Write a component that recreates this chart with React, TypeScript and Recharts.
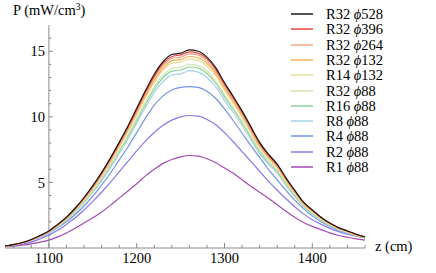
import React from "react";
import { LineChart, Line, XAxis, YAxis, ReferenceLine } from "recharts";

const FONT = '"Liberation Serif", "DejaVu Serif", serif';

const zValues = [
  1050, 1060, 1070, 1080, 1090, 1100, 1110, 1120, 1130, 1140, 1150, 1160, 1170, 1180,
  1190, 1200, 1210, 1220, 1230, 1240, 1250, 1260, 1270, 1280, 1290, 1300, 1310, 1320,
  1330, 1340, 1350, 1360, 1370, 1380, 1390, 1400, 1410, 1420, 1430, 1440, 1450, 1460,
];

const r32p528 = [0.15, 0.27, 0.42, 0.65, 0.95, 1.3, 1.8, 2.35, 3.05, 3.85, 4.75, 5.75, 6.85, 8.05, 9.3, 10.65, 12.0, 13.25, 14.2, 14.75, 14.85, 15.1, 15.0, 14.55, 13.75, 12.6, 11.55, 10.45, 9.25, 8.05, 7.15, 6.4, 5.35, 4.4, 3.5, 2.9, 2.35, 1.9, 1.55, 1.3, 1.05, 0.85];
const r32p396 = [0.15, 0.26, 0.41, 0.64, 0.94, 1.28, 1.78, 2.32, 3.0, 3.8, 4.7, 5.68, 6.78, 7.96, 9.2, 10.53, 11.87, 13.1, 14.05, 14.6, 14.72, 14.95, 14.85, 14.42, 13.62, 12.48, 11.44, 10.35, 9.16, 7.97, 7.08, 6.33, 5.3, 4.36, 3.47, 2.87, 2.33, 1.88, 1.53, 1.29, 1.04, 0.84];
const r32p264 = [0.15, 0.26, 0.41, 0.64, 0.93, 1.27, 1.76, 2.3, 2.98, 3.77, 4.65, 5.63, 6.71, 7.88, 9.1, 10.43, 11.75, 12.97, 13.9, 14.45, 14.55, 14.8, 14.7, 14.25, 13.47, 12.34, 11.31, 10.24, 9.06, 7.88, 7.0, 6.27, 5.24, 4.31, 3.43, 2.84, 2.3, 1.86, 1.52, 1.27, 1.03, 0.83];
const r32p132 = [0.14, 0.26, 0.4, 0.63, 0.92, 1.26, 1.74, 2.27, 2.95, 3.72, 4.59, 5.56, 6.62, 7.78, 8.99, 10.29, 11.6, 12.8, 13.72, 14.26, 14.36, 14.6, 14.5, 14.07, 13.3, 12.18, 11.17, 10.1, 8.94, 7.78, 6.91, 6.19, 5.17, 4.25, 3.38, 2.8, 2.27, 1.84, 1.5, 1.26, 1.02, 0.82];
const r14p132 = [0.14, 0.25, 0.4, 0.62, 0.91, 1.24, 1.72, 2.24, 2.91, 3.67, 4.53, 5.49, 6.53, 7.68, 8.87, 10.16, 11.45, 12.64, 13.55, 14.07, 14.17, 14.4, 14.3, 13.88, 13.12, 12.02, 11.02, 9.97, 8.82, 7.68, 6.82, 6.1, 5.1, 4.2, 3.34, 2.77, 2.24, 1.81, 1.48, 1.24, 1.0, 0.81];
const r32p88 = [0.14, 0.25, 0.39, 0.6, 0.88, 1.21, 1.67, 2.18, 2.83, 3.57, 4.4, 5.33, 6.35, 7.46, 8.62, 9.87, 11.12, 12.28, 13.16, 13.67, 13.77, 14.0, 13.9, 13.49, 12.75, 11.68, 10.71, 9.69, 8.57, 7.46, 6.63, 5.93, 4.96, 4.08, 3.24, 2.69, 2.18, 1.76, 1.44, 1.21, 0.97, 0.79];
const r16p88 = [0.14, 0.25, 0.38, 0.59, 0.87, 1.19, 1.65, 2.15, 2.79, 3.52, 4.34, 5.26, 6.26, 7.36, 8.5, 9.73, 10.97, 12.11, 12.98, 13.48, 13.57, 13.8, 13.71, 13.3, 12.57, 11.52, 10.56, 9.55, 8.45, 7.36, 6.53, 5.85, 4.89, 4.02, 3.2, 2.65, 2.15, 1.74, 1.42, 1.19, 0.96, 0.78];
const r8p88 = [0.13, 0.24, 0.38, 0.58, 0.85, 1.16, 1.61, 2.1, 2.73, 3.44, 4.25, 5.14, 6.12, 7.2, 8.31, 9.52, 10.73, 11.85, 12.69, 13.19, 13.28, 13.5, 13.41, 13.0, 12.29, 11.26, 10.33, 9.34, 8.27, 7.2, 6.39, 5.72, 4.78, 3.93, 3.13, 2.59, 2.1, 1.7, 1.39, 1.16, 0.94, 0.76];
const r4p88 = [0.13, 0.22, 0.35, 0.6, 0.85, 1.15, 1.55, 2.0, 2.55, 3.2, 3.95, 4.8, 5.7, 6.7, 7.7, 8.8, 9.9, 10.9, 11.6, 12.05, 12.25, 12.3, 12.25, 11.95, 11.4, 10.6, 9.7, 8.75, 7.8, 6.9, 6.0, 5.2, 4.4, 3.65, 3.0, 2.45, 2.0, 1.65, 1.35, 1.15, 0.97, 0.82];
const r2p88 = [0.12, 0.2, 0.3, 0.45, 0.7, 1.0, 1.35, 1.8, 2.3, 2.9, 3.55, 4.25, 5.0, 5.8, 6.6, 7.4, 8.15, 8.8, 9.35, 9.75, 10.0, 10.1, 10.05, 9.8, 9.4, 8.8, 8.1, 7.35, 6.6, 5.85, 5.1, 4.4, 3.75, 3.15, 2.6, 2.15, 1.8, 1.5, 1.25, 1.05, 0.9, 0.78];
const r1p88 = [0.1, 0.15, 0.22, 0.32, 0.45, 0.6, 0.85, 1.15, 1.5, 1.9, 2.3, 2.75, 3.25, 3.8, 4.35, 4.9, 5.5, 6.0, 6.45, 6.75, 6.95, 7.05, 7.0, 6.8, 6.5, 6.1, 5.7, 5.2, 4.7, 4.25, 3.8, 3.3, 2.8, 2.35, 1.95, 1.65, 1.4, 1.15, 0.95, 0.82, 0.7, 0.6];

const series = [
  { key: "r32p528", r: "R32", phi: "528", color: "#1a1a1a", values: r32p528 },
  { key: "r32p396", r: "R32", phi: "396", color: "#e8453c", values: r32p396 },
  { key: "r32p264", r: "R32", phi: "264", color: "#f5a886", values: r32p264 },
  { key: "r32p132", r: "R32", phi: "132", color: "#f7b254", values: r32p132 },
  { key: "r14p132", r: "R14", phi: "132", color: "#e6de95", values: r14p132 },
  { key: "r32p88", r: "R32", phi: "88", color: "#d3e4b3", values: r32p88 },
  { key: "r16p88", r: "R16", phi: "88", color: "#8fd1a1", values: r16p88 },
  { key: "r8p88", r: "R8", phi: "88", color: "#a3d3e6", values: r8p88 },
  { key: "r4p88", r: "R4", phi: "88", color: "#6f94e8", values: r4p88 },
  { key: "r2p88", r: "R2", phi: "88", color: "#8878ee", values: r2p88 },
  { key: "r1p88", r: "R1", phi: "88", color: "#a24ab2", values: r1p88 },
];

const xTicks = [1060, 1080, 1100, 1120, 1140, 1160, 1180, 1200, 1220, 1240, 1260, 1280, 1300, 1320, 1340, 1360, 1380, 1400, 1420, 1440, 1460];
const yTicks = [1, 2, 3, 4, 5, 6, 7, 8, 9, 10, 11, 12, 13, 14, 15, 16];
const yMajor = [5, 10, 15];
const Y_AXIS_AT = 1100;

const data = zValues.map((z, i) => {
  const row: Record<string, number> = { z };
  series.forEach((s) => (row[s.key] = s.values[i]));
  return row;
});

const AXIS = "#8a8a8a";

function XTick(props: any) {
  const { x, y, payload } = props;
  const v = payload.value;
  const major = v % 100 === 0;
  return (
    <g>
      <line x1={x} x2={x} y1={y} y2={y - (major ? 5 : 3)} stroke={AXIS} strokeWidth={1} />
      {major && (
        <text x={x} y={y + 15} textAnchor="middle" fontFamily={FONT} fontSize={14.5} fill="#000">
          {v}
        </text>
      )}
    </g>
  );
}

export default function App() {
  return (
    <div style={{ position: "absolute", left: 0, top: 0, width: 436, height: 273, background: "#fff" }}>
      <LineChart width={436} height={273} data={data} margin={{ top: 25, right: 71, bottom: 0, left: 5 }}>
        <XAxis
          dataKey="z"
          type="number"
          domain={[1050, 1460]}
          ticks={xTicks}
          tick={<XTick />}
          tickLine={false}
          tickSize={0}
          tickMargin={0}
          height={25}
          axisLine={{ stroke: AXIS }}
          interval={0}
        />
        <YAxis type="number" domain={[0, 17]} hide width={0} />
        <ReferenceLine x={Y_AXIS_AT} stroke={AXIS} />
        {yTicks.map((v) => {
          const major = yMajor.includes(v);
          return (
            <ReferenceLine
              key={v}
              stroke={AXIS}
              segment={[
                { x: Y_AXIS_AT, y: v },
                { x: Y_AXIS_AT + (major ? 4.6 : 2.8), y: v },
              ]}
              label={
                major
                  ? { value: String(v), position: "left", offset: 4, fill: "#000", fontSize: 14.5, fontFamily: FONT }
                  : undefined
              }
            />
          );
        })}
        {[...series].reverse().map((s) => (
          <Line
            key={s.key}
            dataKey={s.key}
            type="monotone"
            stroke={s.color}
            strokeWidth={1.2}
            dot={false}
            isAnimationActive={false}
          />
        ))}
      </LineChart>

      <div style={{ position: "absolute", left: 13, top: 2, fontFamily: FONT, fontSize: 14.5, lineHeight: "16px", whiteSpace: "nowrap" }}>
        P (mW/cm<sup style={{ fontSize: 9.5, verticalAlign: "top", lineHeight: "10px" }}>3</sup>)
      </div>
      <div style={{ position: "absolute", left: 375, top: 238, fontFamily: FONT, fontSize: 14.5, lineHeight: "16px", whiteSpace: "nowrap" }}>
        z (cm)
      </div>

      {series.map((s, i) => (
        <div
          key={s.key}
          style={{
            position: "absolute",
            left: 290,
            top: 6 + i * 15.3,
            height: 16,
            display: "flex",
            alignItems: "center",
            fontFamily: FONT,
            fontSize: 14.5,
            lineHeight: "16px",
            whiteSpace: "nowrap",
          }}
        >
          <svg width={24} height={16} style={{ display: "block" }}>
            <line x1={1} x2={23} y1={8} y2={8} stroke={s.color} strokeWidth={1.5} />
          </svg>
          <span style={{ marginLeft: 12 }}>
            {s.r} <i>ϕ</i>
            {s.phi}
          </span>
        </div>
      ))}
    </div>
  );
}
